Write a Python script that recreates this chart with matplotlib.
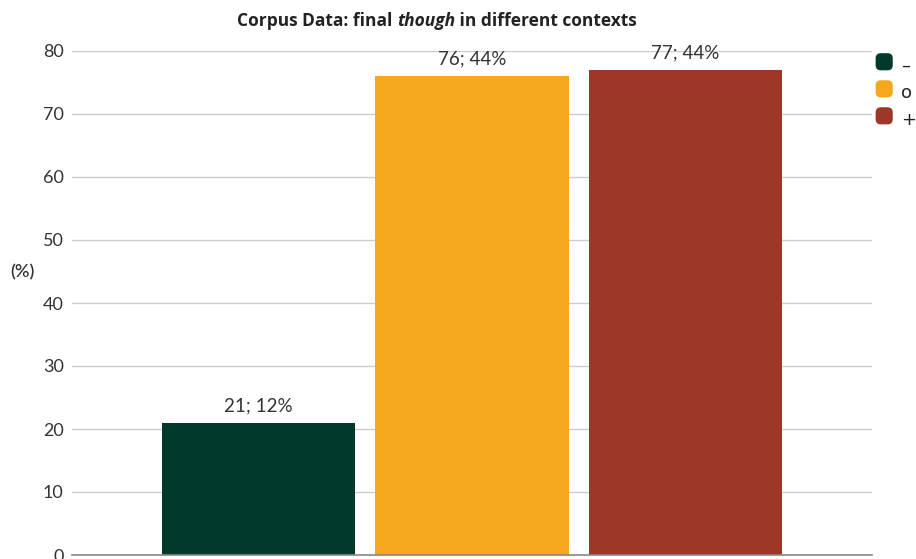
import matplotlib
matplotlib.use("Agg")
import matplotlib.pyplot as plt
from matplotlib.patches import FancyBboxPatch, Patch
from matplotlib.legend_handler import HandlerPatch

# Corpus counts of final "though" by context type
contexts = ["\u2013", "o", "+"]
counts = [21, 76, 77]
shares = [12, 44, 44]
colors = ["#013A2C", "#F6A81D", "#9D3728"]
yticks = [0, 10, 20, 30, 40, 50, 60, 70, 80]

plt.rcParams["font.family"] = ["Lato", "DejaVu Sans"]

fig = plt.figure(figsize=(9.16, 5.59), dpi=100)
ax = fig.add_axes([72 / 916, 4 / 559, 800 / 916, 504 / 559])

x = list(range(len(counts)))
bars = ax.bar(x, counts, width=0.904, color=colors, zorder=3)
for b, c, s in zip(bars, counts, shares):
    ax.annotate(f"{c}; {s}%", (b.get_x() + b.get_width() / 2, c),
                xytext=(0, 6), textcoords="offset points",
                ha="center", va="bottom", fontsize=13.5, color="#333333")

ax.set_xlim(-0.873, 2.873)
ax.set_ylim(0, 80)
ax.set_yticks(yticks)
ax.set_xticks([])
ax.tick_params(axis="y", length=0, pad=6, labelsize=13, labelcolor="#333333")
ax.grid(axis="y", color="#cccccc", linewidth=1, zorder=0)
for side in ["top", "right", "left"]:
    ax.spines[side].set_visible(False)
ax.spines["bottom"].set_color("#888888")
ax.spines["bottom"].set_linewidth(1.2)
ax.spines["bottom"].set_zorder(4)

fig.text(22 / 916, 1 - 272 / 559, "(%)", ha="center", va="center",
         fontsize=13, color="#333333", fontweight="semibold")


class RoundBox(HandlerPatch):
    def create_artists(self, legend, orig_handle, xdescent, ydescent,
                       width, height, fontsize, trans):
        size = min(width, height) * 1.1
        p = FancyBboxPatch((xdescent + (width - size) / 2, ydescent + (height - size) / 2),
                           size, size, boxstyle="round,pad=0,rounding_size=%f" % (size * 0.3),
                           facecolor=orig_handle.get_facecolor(), edgecolor="none",
                           transform=trans)
        return [p]


handles = [Patch(facecolor=c, label=l) for c, l in zip(colors, contexts)]
ax.legend(handles=handles, handler_map={Patch: RoundBox()},
          loc="upper left", bbox_to_anchor=(1.0, 0.995), frameon=False,
          prop={"family": ["DejaVu Sans"], "size": 13},
          handlelength=0.95, handleheight=0.95,
          handletextpad=0.45, labelspacing=0.5, borderaxespad=0.0,
          borderpad=0.2, labelcolor="#222222")

# Title with italic word, assembled piecewise
tkw = dict(fontsize=12.5, fontweight="bold", color="#222222",
           family=["Open Sans", "DejaVu Sans"])
t1 = fig.text(233 / 916, 1 - 26 / 559, "Corpus Data: final ", ha="left", va="baseline", **tkw)
t2 = fig.text(0, 0, "though", style="italic", ha="left", va="baseline", **tkw)
t3 = fig.text(0, 0, " in different contexts", ha="left", va="baseline", **tkw)
fig.canvas.draw()
r = fig.canvas.get_renderer()
inv = fig.transFigure.inverted()
bb1 = t1.get_window_extent(r)
x1 = inv.transform((bb1.x1, 0))[0]
t2.set_position((x1, t1.get_position()[1]))
bb2 = t2.get_window_extent(r)
x2 = inv.transform((bb2.x1, 0))[0]
t3.set_position((x2, t1.get_position()[1]))
bb3 = t3.get_window_extent(r)
total = bb3.x1 - bb1.x0
shift = (437 - (bb1.x0 + total / 2)) / fig.bbox.width
for t in (t1, t2, t3):
    px, py = t.get_position()
    t.set_position((px + shift, py))

fig.savefig("out.png", dpi=100)
